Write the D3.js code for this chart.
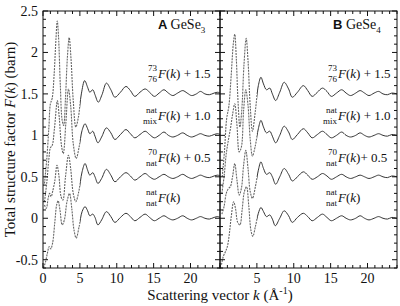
<!DOCTYPE html>
<html>
<head>
<meta charset="utf-8">
<script src="https://cdn.jsdelivr.net/npm/d3@7"></script>
<style>
  html, body { margin: 0; padding: 0; background: #fff; }
  svg { display: block; }
  text { font-family: "Liberation Serif", "DejaVu Serif", serif; fill: #111; }
</style>
</head>
<body>
<div id="chart"></div>
<script>

// ---- data: [k (1/A), F(k) incl. vertical offset] ----

// panel A, GeSe3
const gese3_7376 = [[0.2,0.42],[0.5,0.7],[0.8,1.1],[1.0,1.38],[1.25,1.45],[1.5,1.72],[1.75,2.15],[1.93,2.38],[2.1,2.2],[2.35,1.6],[2.6,1.18],[2.8,1.12],[3.05,1.45],[3.3,1.93],[3.55,2.18],[3.8,1.92],[4.1,1.42],[4.45,1.1],[4.8,1.22],[5.2,1.5],[5.65,1.66],[6.05,1.58],[6.35,1.52],[6.75,1.55],[7.05,1.49],[7.5,1.4],[8.0,1.49],[8.6,1.63],[9.2,1.55],[9.75,1.46],[10.5,1.52],[11.25,1.59],[11.85,1.54],[12.45,1.47],[13.15,1.52],[13.85,1.56],[14.45,1.52],[15.1,1.47],[15.75,1.51],[16.4,1.55],[17.0,1.51],[17.6,1.48],[18.25,1.51],[18.95,1.54],[19.55,1.51],[20.15,1.48],[20.8,1.5],[21.35,1.53],[21.95,1.5],[22.55,1.49],[23.2,1.51],[23.7,1.52],[24,1.51]];
const gese3_mix = [[0.2,0.2],[0.5,0.42],[0.8,0.72],[1.0,0.85],[1.25,0.88],[1.55,1.08],[1.95,1.42],[2.2,1.22],[2.5,0.88],[2.75,0.78],[3.1,1.15],[3.45,1.56],[3.75,1.36],[4.1,0.9],[4.5,0.72],[4.9,0.86],[5.3,1.06],[5.7,1.14],[6.05,1.08],[6.35,1.02],[6.75,1.05],[7.05,0.99],[7.45,0.91],[7.95,0.98],[8.6,1.09],[9.2,1.03],[9.75,0.95],[10.5,1.01],[11.25,1.07],[11.85,1.02],[12.45,0.97],[13.15,1.01],[13.85,1.05],[14.45,1.01],[15.1,0.97],[15.75,1.0],[16.4,1.04],[17.0,1.0],[17.6,0.98],[18.25,1.0],[18.95,1.03],[19.55,1.0],[20.15,0.98],[20.8,1.0],[21.35,1.02],[21.95,1.0],[22.55,0.99],[23.2,1.01],[23.7,1.02],[24,1.01]];
const gese3_70nat = [[0.2,0.16],[0.45,0.12],[0.7,0.24],[0.9,0.3],[1.1,0.26],[1.3,0.32],[1.6,0.45],[1.9,0.64],[2.15,0.52],[2.45,0.26],[2.7,0.22],[3.05,0.5],[3.45,0.76],[3.75,0.6],[4.1,0.3],[4.45,0.2],[4.85,0.32],[5.3,0.56],[5.7,0.66],[6.05,0.58],[6.35,0.52],[6.75,0.55],[7.05,0.5],[7.45,0.42],[7.95,0.48],[8.6,0.59],[9.2,0.52],[9.75,0.44],[10.5,0.5],[11.25,0.55],[11.85,0.51],[12.45,0.46],[13.15,0.5],[13.85,0.54],[14.45,0.5],[15.1,0.47],[15.75,0.5],[16.4,0.53],[17.0,0.5],[17.6,0.48],[18.25,0.5],[18.95,0.53],[19.55,0.5],[20.15,0.48],[20.8,0.5],[21.35,0.52],[21.95,0.5],[22.55,0.49],[23.2,0.51],[23.7,0.52],[24,0.51]];
const gese3_nat = [[0.05,-0.6],[0.3,-0.54],[0.6,-0.42],[0.85,-0.34],[1.05,-0.37],[1.3,-0.3],[1.6,-0.05],[1.85,0.16],[2.05,0.21],[2.3,0.1],[2.6,-0.08],[2.9,-0.02],[3.25,0.2],[3.6,0.3],[3.9,0.12],[4.2,-0.14],[4.5,-0.24],[4.9,-0.1],[5.3,0.08],[5.7,0.14],[6.05,0.09],[6.35,0.03],[6.75,0.05],[7.05,0.01],[7.45,-0.08],[7.95,-0.02],[8.6,0.08],[9.2,0.02],[9.75,-0.05],[10.5,0.01],[11.25,0.06],[11.85,0.02],[12.45,-0.03],[13.15,0.01],[13.85,0.05],[14.45,0.01],[15.1,-0.03],[15.75,0.0],[16.4,0.03],[17.0,0.0],[17.6,-0.02],[18.25,0.0],[18.95,0.03],[19.55,0.0],[20.15,-0.02],[20.8,0.0],[21.35,0.02],[21.95,0.0],[22.55,-0.01],[23.2,0.01],[23.7,0.02],[24,0.01]];

// panel B, GeSe4
const gese4_7376 = [[0.3,0.5],[0.6,0.8],[0.9,1.2],[1.2,1.35],[1.5,1.7],[1.8,2.1],[2.0,2.22],[2.2,1.95],[2.45,1.4],[2.7,1.1],[2.95,1.3],[3.25,1.85],[3.55,2.17],[3.8,1.9],[4.1,1.35],[4.4,1.05],[4.8,1.3],[5.2,1.6],[5.55,1.7],[5.9,1.62],[6.3,1.55],[6.75,1.57],[7.1,1.5],[7.55,1.42],[8.1,1.52],[8.7,1.64],[9.3,1.56],[9.8,1.46],[10.5,1.52],[11.3,1.6],[11.9,1.54],[12.5,1.47],[13.2,1.52],[13.9,1.57],[14.5,1.53],[15.1,1.47],[15.8,1.51],[16.5,1.55],[17.1,1.51],[17.7,1.48],[18.4,1.51],[19.0,1.54],[19.6,1.51],[20.2,1.48],[20.9,1.51],[21.5,1.53],[22.1,1.5],[22.7,1.49],[23.3,1.51],[24,1.5]];
const gese4_mix = [[0.25,0.3],[0.55,0.5],[0.85,0.78],[1.15,0.95],[1.45,1.1],[1.7,1.25],[2.0,1.38],[2.3,1.12],[2.6,0.8],[2.9,0.86],[3.2,1.3],[3.5,1.55],[3.8,1.36],[4.1,0.95],[4.4,0.75],[4.8,0.88],[5.2,1.08],[5.55,1.18],[5.9,1.1],[6.3,1.03],[6.75,1.05],[7.1,0.99],[7.55,0.91],[8.1,1.0],[8.7,1.11],[9.3,1.04],[9.8,0.95],[10.5,1.01],[11.3,1.08],[11.9,1.03],[12.5,0.97],[13.2,1.01],[13.9,1.05],[14.5,1.01],[15.1,0.97],[15.8,1.0],[16.5,1.04],[17.1,1.0],[17.7,0.98],[18.4,1.0],[19.0,1.03],[19.6,1.0],[20.2,0.98],[20.9,1.0],[21.5,1.02],[22.1,1.0],[22.7,0.99],[23.3,1.01],[24,1.0]];
const gese4_70nat = [[0.25,0.05],[0.55,0.14],[0.85,0.3],[1.15,0.36],[1.4,0.38],[1.7,0.5],[2.0,0.66],[2.3,0.46],[2.6,0.28],[2.9,0.36],[3.2,0.64],[3.5,0.82],[3.8,0.6],[4.1,0.32],[4.4,0.24],[4.8,0.38],[5.2,0.58],[5.55,0.68],[5.9,0.6],[6.3,0.53],[6.75,0.55],[7.1,0.5],[7.55,0.41],[8.1,0.5],[8.7,0.6],[9.3,0.53],[9.8,0.45],[10.5,0.5],[11.3,0.56],[11.9,0.52],[12.5,0.47],[13.2,0.5],[13.9,0.54],[14.5,0.51],[15.1,0.47],[15.8,0.5],[16.5,0.53],[17.1,0.5],[17.7,0.48],[18.4,0.5],[19.0,0.52],[19.6,0.5],[20.2,0.48],[20.9,0.5],[21.5,0.52],[22.1,0.5],[22.7,0.49],[23.3,0.51],[24,0.5]];
const gese4_nat = [[0.2,-0.56],[0.45,-0.46],[0.75,-0.4],[1.0,-0.34],[1.25,-0.2],[1.5,0.0],[1.85,0.2],[2.1,0.12],[2.4,-0.05],[2.7,-0.08],[3.0,0.1],[3.3,0.32],[3.6,0.38],[3.9,0.15],[4.2,-0.15],[4.45,-0.22],[4.8,-0.1],[5.2,0.06],[5.55,0.13],[5.9,0.08],[6.3,0.02],[6.75,0.04],[7.1,-0.01],[7.5,-0.09],[8.1,0.0],[8.7,0.09],[9.3,0.03],[9.8,-0.05],[10.5,0.01],[11.3,0.06],[11.9,0.02],[12.5,-0.03],[13.2,0.01],[13.9,0.05],[14.5,0.01],[15.1,-0.03],[15.8,0.0],[16.5,0.03],[17.1,0.0],[17.7,-0.02],[18.4,0.0],[19.0,0.03],[19.6,0.0],[20.2,-0.02],[20.9,0.0],[21.5,0.02],[22.1,0.0],[22.7,-0.01],[23.3,0.01],[24,0.0]];

// ticks
const yTicks = [-0.5, 0, 0.5, 1, 1.5, 2, 2.5];
const xTicksA = [0, 5, 10, 15, 20];
const xTicksB = [5, 10, 15, 20];

// curve labels: pre-superscript, pre-subscript, tail text, y position (data units)
const labelSup  = ["73", "nat", "70", "nat"];
const labelSub  = ["76", "mix", "nat", "nat"];
const labelTail = ["F(k) + 1.5", "F(k) + 1.0", "F(k) + 0.5", "F(k)"];
const labelTailB = ["F(k) + 1.5", "F(k) + 1.0", "F(k)+ 0.5", "F(k)"];
const labelY    = [1.69, 1.18, 0.68, 0.2];

// ---- layout ----
const W = 400, H = 306;
const plotTop = 11, plotBottom = 268;
const panels = [
  { id: "A", name: "GeSe", sub: "3", x0: 43, x1: 220, xt: xTicksA, tails: labelTail,
    curves: [gese3_7376, gese3_mix, gese3_70nat, gese3_nat], labX: 158, nameX: 158 },
  { id: "B", name: "GeSe", sub: "4", x0: 220, x1: 397, xt: xTicksB, tails: labelTailB,
    curves: [gese4_7376, gese4_mix, gese4_70nat, gese4_nat], labX: 338, nameX: 333 }
];

const svg = d3.select("#chart").append("svg")
  .attr("width", W).attr("height", H);

const y = d3.scaleLinear().domain([-0.6, 2.5]).range([plotBottom, plotTop]);
const yMinor = d3.range(-0.6, 2.5001, 0.1).map(v => +v.toFixed(2));

const defs = svg.append("defs");

panels.forEach((p, pi) => {
  const x = d3.scaleLinear().domain([0, 24]).range([p.x0, p.x1]);
  const xMinor = d3.range(0, 25, 1);
  const g = svg.append("g");

  // clip regions: dashed for low k, solid for higher k
  const split = x(5.0);
  defs.append("clipPath").attr("id", `lo${pi}`)
    .append("rect").attr("x", p.x0).attr("y", plotTop).attr("width", split - p.x0).attr("height", plotBottom - plotTop);
  defs.append("clipPath").attr("id", `hi${pi}`)
    .append("rect").attr("x", split).attr("y", plotTop).attr("width", p.x1 - split).attr("height", plotBottom - plotTop);

  const line = d3.line()
    .x(d => x(d[0]))
    .y(d => y(d[1]))
    .curve(d3.curveCatmullRom.alpha(0.5));

  p.curves.forEach(c => {
    g.append("path").datum(c)
      .attr("clip-path", `url(#lo${pi})`)
      .attr("fill", "none")
      .attr("stroke", "#666")
      .attr("stroke-width", 1.1)
      .attr("stroke-dasharray", "2,1")
      .attr("d", line);
    g.append("path").datum(c)
      .attr("clip-path", `url(#hi${pi})`)
      .attr("fill", "none")
      .attr("stroke", "#333")
      .attr("stroke-width", 1)
      .attr("d", line);
  });

  // frame
  g.append("rect")
    .attr("x", p.x0).attr("y", plotTop)
    .attr("width", p.x1 - p.x0).attr("height", plotBottom - plotTop)
    .attr("fill", "none").attr("stroke", "#111").attr("stroke-width", 1);

  // inward ticks, x (bottom and top)
  xMinor.forEach(v => {
    const major = v % 5 === 0;
    const len = major ? 5 : 3;
    g.append("line").attr("x1", x(v)).attr("x2", x(v))
      .attr("y1", plotBottom).attr("y2", plotBottom - len).attr("stroke", "#111");
    g.append("line").attr("x1", x(v)).attr("x2", x(v))
      .attr("y1", plotTop).attr("y2", plotTop + len).attr("stroke", "#111");
  });
  // inward ticks, y (left and right)
  yMinor.forEach(v => {
    const major = Math.abs(v * 2 - Math.round(v * 2)) < 1e-6;
    const len = major ? 5 : 3;
    g.append("line").attr("x1", p.x0).attr("x2", p.x0 + len)
      .attr("y1", y(v)).attr("y2", y(v)).attr("stroke", "#111");
    g.append("line").attr("x1", p.x1).attr("x2", p.x1 - len)
      .attr("y1", y(v)).attr("y2", y(v)).attr("stroke", "#111");
  });

  // x tick labels
  g.selectAll(".xl").data(p.xt).enter().append("text")
    .attr("x", d => x(d)).attr("y", plotBottom + 15)
    .attr("text-anchor", "middle").attr("font-size", 14)
    .text(d => d);

  // panel title
  const t = g.append("text").attr("x", p.nameX).attr("y", 29).attr("font-size", 14);
  t.append("tspan").attr("font-family", "Liberation Sans, Arial, sans-serif")
    .attr("font-weight", "bold").attr("font-size", 13).text(p.id + " ");
  t.append("tspan").text(p.name);
  t.append("tspan").attr("font-size", 9).attr("dy", 4).text(p.sub);

  // curve labels
  labelY.forEach((v, i) => {
    const by = y(v);
    const xl = p.labX;
    g.append("text").attr("x", xl - 1).attr("y", by - 7)
      .attr("text-anchor", "end").attr("font-size", 9).text(labelSup[i]);
    g.append("text").attr("x", xl - 1).attr("y", by + 4)
      .attr("text-anchor", "end").attr("font-size", 9).text(labelSub[i]);
    const tx = g.append("text").attr("x", xl).attr("y", by).attr("font-size", 13);
    tx.append("tspan").attr("font-style", "italic").text("F");
    tx.append("tspan").text("(");
    tx.append("tspan").attr("font-style", "italic").text("k");
    tx.append("tspan").text(p.tails[i].slice(3));
  });
});

// y tick labels on panel A
svg.selectAll(".yl").data(yTicks).enter().append("text")
  .attr("x", 38).attr("y", d => y(d) + 5)
  .attr("text-anchor", "end").attr("font-size", 14)
  .text(d => d);

// y-axis title
const yt = svg.append("text")
  .attr("transform", `translate(15,${(plotTop + plotBottom) / 2}) rotate(-90)`)
  .attr("text-anchor", "middle").attr("font-size", 15);
yt.append("tspan").text("Total structure factor ");
yt.append("tspan").attr("font-style", "italic").text("F");
yt.append("tspan").text("(");
yt.append("tspan").attr("font-style", "italic").text("k");
yt.append("tspan").text(") (barn)");

// x-axis title
const xt = svg.append("text")
  .attr("x", 220).attr("y", 300)
  .attr("text-anchor", "middle").attr("font-size", 15);
xt.append("tspan").text("Scattering vector ");
xt.append("tspan").attr("font-style", "italic").text("k");
xt.append("tspan").text(" (Å");
xt.append("tspan").attr("font-size", 10).attr("dy", -6).text("-1");
xt.append("tspan").attr("dy", 6).text(")");

</script>
</body>
</html>
